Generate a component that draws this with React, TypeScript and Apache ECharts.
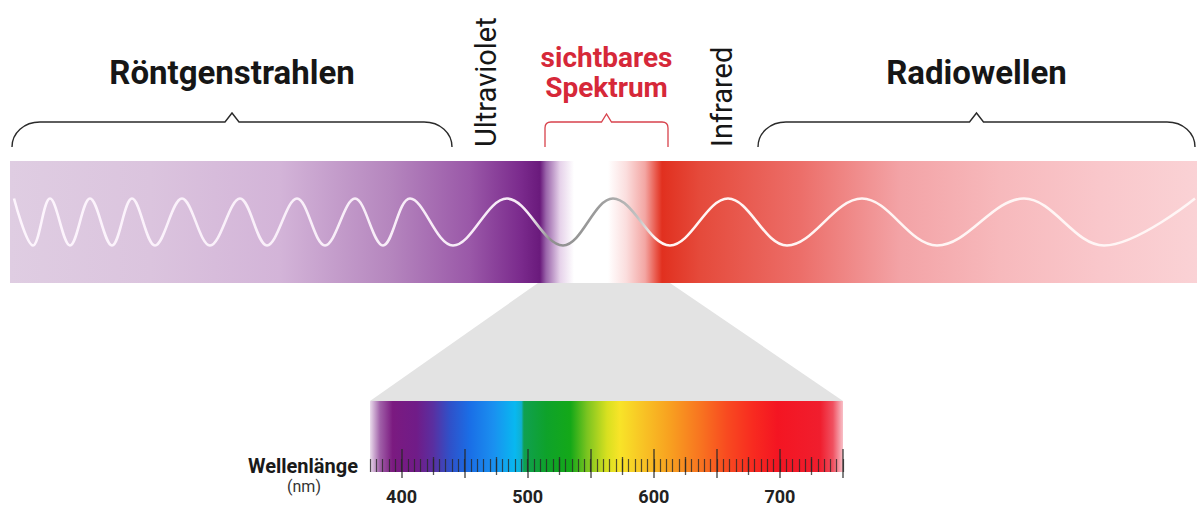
import React, { useEffect, useRef } from 'react';
import * as echarts from 'echarts';

// ---------- upper band (unitless position scale, left to right) ----------
const bandExtent = [10, 1197];
const bandYExtent = [-2.6, 2.6];
const wavePeaks = [14, 50, 90, 132, 182, 240, 297, 355, 410, 507, 613, 728, 862, 1024, 1195];
const waveTroughs = [33, 70, 112, 155, 210, 267, 325, 383, 453, 563, 670, 787, 937, 1104];

const bandStopPos = [10, 150, 280, 390, 470, 520, 540, 546, 560, 574, 608, 626, 645, 656, 662, 700, 800, 900, 1000, 1100, 1197];
const bandStopColor = ['#dfcde2', '#dbc4de', '#d3b4d8', '#b586be', '#9a58a8', '#7b2b8d', '#6a1a7c', '#9a64aa', '#e6d2ea', '#ffffff', '#ffffff', '#fbdede', '#f3a6a3', '#e9584b', '#e1301f', '#e54a3b', '#ec6e69', '#f3a3a6', '#f7b9bc', '#f9c7cb', '#fad2d5'];

const waveStopPos = [14, 530, 550, 600, 638, 655, 1195];
const waveStopColor = ['#fdf5fd', '#f6eaf6', '#8f8f8f', '#9c9c9c', '#c2c2c2', '#fff4f2', '#fff6f6'];

const regionNames = ['Röntgenstrahlen', 'sichtbares\nSpektrum', 'Radiowellen'];
const regionStart = [12, 545, 758];
const regionEnd = [452, 668, 1195];
const regionKind = ['major', 'visible', 'major'];

const gapLabels = ['Ultraviolet', 'Infrared'];
const gapLabelX = [486, 722];

const visibleWindow = [538, 670];

// ---------- lower spectrum (wavelength in nm) ----------
const spectrumRange = [375, 750];
const spectrumStopNm = [375, 383, 393, 412, 425, 438, 454, 473, 490, 495, 497, 515, 534, 547, 563, 573, 591, 613, 637, 658, 679, 698, 732, 742, 750];
const spectrumStopColor = ['#eadcec', '#a060a8', '#7b1a80', '#701c88', '#5a2fa0', '#3050c8', '#1a6ee6', '#1a90f0', '#08b8f0', '#10b0d0', '#10a050', '#0ea22a', '#14a818', '#7ac420', '#d8e020', '#f8e428', '#f8c425', '#f8a020', '#f87420', '#f84a20', '#f82a20', '#f41522', '#f01e2e', '#f05060', '#f8c0c8'];
const minorTickStep = 5;
const mediumTicks = [425, 475, 525, 575, 625, 675, 725];
const majorTicks = [400, 450, 500, 550, 600, 650, 700, 750];
const tickLabels = [400, 500, 600, 700];
const axisTitle = 'Wellenlänge';
const axisUnit = '(nm)';

const FONT = 'Roboto';

export default function App() {
  const ref = useRef<HTMLDivElement>(null);

  useEffect(() => {
    const chart = echarts.init(ref.current!, null, { renderer: 'svg' });

    const waveData = [
      ...wavePeaks.map((x) => [x, 1]),
      ...waveTroughs.map((x) => [x, -1]),
    ].sort((a, b) => a[0] - b[0]);

    const w0 = wavePeaks[0];
    const w1 = wavePeaks[wavePeaks.length - 1];
    const waveGradient = new echarts.graphic.LinearGradient(
      0, 0, 1, 0,
      waveStopPos.map((p, i) => ({ offset: (p - w0) / (w1 - w0), color: waveStopColor[i] }))
    );
    const bandGradientStops = bandStopPos.map((p, i) => ({
      offset: (p - bandExtent[0]) / (bandExtent[1] - bandExtent[0]),
      color: bandStopColor[i],
    }));
    const spectrumGradientStops = spectrumStopNm.map((nm, i) => ({
      offset: (nm - spectrumRange[0]) / (spectrumRange[1] - spectrumRange[0]),
      color: spectrumStopColor[i],
    }));

    const tickColor = 'rgba(40,40,40,0.78)';

    const option: any = {
      animation: false,
      grid: [
        { left: 10, top: 161, width: 1187, height: 122, containLabel: false, outerBoundsMode: 'none' },
        { left: 370, top: 401, width: 473, height: 71, containLabel: false, outerBoundsMode: 'none' },
      ],
      xAxis: [
        { gridIndex: 0, type: 'value', min: bandExtent[0], max: bandExtent[1], show: false },
        {
          gridIndex: 1, type: 'value', position: 'bottom', min: spectrumRange[0], max: spectrumRange[1],
          interval: minorTickStep, z: 10,
          axisLine: { show: false }, splitLine: { show: false }, axisLabel: { show: false },
          axisTick: { show: true, inside: true, length: 13, lineStyle: { color: tickColor, width: 1.2 } },
        },
        {
          gridIndex: 1, type: 'value', position: 'bottom', offset: 3, min: spectrumRange[0], max: spectrumRange[1], z: 10,
          axisLine: { show: false }, splitLine: { show: false }, axisLabel: { show: false },
          axisTick: { show: true, inside: true, length: 18, customValues: mediumTicks, lineStyle: { color: tickColor, width: 1.3 } },
        },
        {
          gridIndex: 1, type: 'value', position: 'bottom', offset: 6, min: spectrumRange[0], max: spectrumRange[1], z: 10,
          axisLine: { show: false }, splitLine: { show: false },
          axisTick: { show: true, inside: true, length: 29, customValues: majorTicks, lineStyle: { color: tickColor, width: 1.5 } },
          axisLabel: {
            customValues: tickLabels, margin: 9, fontSize: 18, fontWeight: 'bold',
            color: '#222', fontFamily: FONT,
          },
        },
      ],
      yAxis: [
        { gridIndex: 0, type: 'value', min: bandYExtent[0], max: bandYExtent[1], show: false },
        { gridIndex: 1, type: 'value', min: 0, max: 1, show: false },
      ],
      series: [
        {
          type: 'custom', name: 'band', xAxisIndex: 0, yAxisIndex: 0, z: 1, silent: true,
          data: [[bandExtent[0], bandExtent[1]]],
          renderItem: (params: any, api: any) => {
            const a = api.coord([api.value(0), bandYExtent[1]]);
            const b = api.coord([api.value(1), bandYExtent[0]]);
            return {
              type: 'rect',
              shape: { x: a[0], y: a[1], width: b[0] - a[0], height: b[1] - a[1] },
              style: { fill: new echarts.graphic.LinearGradient(0, 0, 1, 0, bandGradientStops) },
            };
          },
        },
        {
          type: 'line', name: 'wave', xAxisIndex: 0, yAxisIndex: 0, z: 3, silent: true,
          data: waveData, smooth: 0.364, symbol: 'none',
          lineStyle: { width: 2.6, color: waveGradient },
        },
        {
          type: 'custom', name: 'braces', xAxisIndex: 0, yAxisIndex: 0, z: 2, silent: true,
          data: regionNames.map((n, i) => [regionStart[i], regionEnd[i], i]),
          renderItem: (params: any, api: any) => {
            const i = params.dataIndex;
            const a = api.coord([api.value(0), bandYExtent[1]]);
            const b = api.coord([api.value(1), bandYExtent[1]]);
            const x0 = a[0], x1 = b[0], top = a[1];
            const yb = top - 39, ye = top - 14, xm = (x0 + x1) / 2;
            const red = regionKind[i] === 'visible';
            let d: string;
            if (red) {
              const r = 6;
              d = `M${x0} ${ye} L${x0} ${yb + r} Q${x0} ${yb} ${x0 + r} ${yb} L${xm - 5} ${yb} L${xm} ${yb - 8} L${xm + 5} ${yb} L${x1 - r} ${yb} Q${x1} ${yb} ${x1} ${yb + r} L${x1} ${ye}`;
            } else {
              const r = 28;
              d = `M${x0} ${ye} C${x0} ${yb + 11} ${x0 + 12} ${yb} ${x0 + r} ${yb} L${xm - 7} ${yb} L${xm} ${yb - 9} L${xm + 7} ${yb} L${x1 - r} ${yb} C${x1 - 12} ${yb} ${x1} ${yb + 11} ${x1} ${ye}`;
            }
            return {
              type: 'group',
              children: [
                {
                  type: 'path', shape: { pathData: d },
                  style: { fill: 'none', stroke: red ? '#d8424c' : '#2a2a2a', lineWidth: red ? 1.3 : 1.4 },
                },
                {
                  type: 'text', x: xm, y: top - 89,
                  style: {
                    text: regionNames[i], fill: red ? '#d62839' : '#161616',
                    fontSize: red ? 28 : 33, fontWeight: 'bold', fontFamily: FONT,
                    align: 'center', verticalAlign: 'middle', lineHeight: 30,
                  },
                },
              ],
            };
          },
        },
        {
          type: 'custom', name: 'gapLabels', xAxisIndex: 0, yAxisIndex: 0, z: 2, silent: true,
          data: gapLabelX.map((x, i) => [x, i]),
          renderItem: (params: any, api: any) => {
            const p = api.coord([api.value(0), bandYExtent[1]]);
            return {
              type: 'text', x: p[0], y: p[1] - 14, rotation: Math.PI / 2,
              style: {
                text: gapLabels[params.dataIndex], fill: '#161616', fontSize: 29,
                fontFamily: FONT, align: 'left', verticalAlign: 'middle',
              },
            };
          },
        },
        {
          type: 'custom', name: 'spectrum', xAxisIndex: 1, yAxisIndex: 1, z: 1, silent: true,
          data: [[spectrumRange[0], spectrumRange[1]]],
          renderItem: (params: any, api: any) => {
            const a = api.coord([api.value(0), 1]);
            const b = api.coord([api.value(1), 0]);
            return {
              type: 'rect',
              shape: { x: a[0], y: a[1], width: b[0] - a[0], height: b[1] - a[1] },
              style: { fill: new echarts.graphic.LinearGradient(0, 0, 1, 0, spectrumGradientStops) },
            };
          },
        },
      ],
    };

    chart.setOption(option);

    const tl = chart.convertToPixel({ xAxisIndex: 0, yAxisIndex: 0 } as any, [visibleWindow[0], bandYExtent[0]]) as number[];
    const tr = chart.convertToPixel({ xAxisIndex: 0, yAxisIndex: 0 } as any, [visibleWindow[1], bandYExtent[0]]) as number[];
    const bl = chart.convertToPixel({ xAxisIndex: 1, yAxisIndex: 1 } as any, [spectrumRange[0], 1]) as number[];
    const br = chart.convertToPixel({ xAxisIndex: 1, yAxisIndex: 1 } as any, [spectrumRange[1], 1]) as number[];
    const anchor = chart.convertToPixel({ xAxisIndex: 1, yAxisIndex: 1 } as any, [spectrumRange[0], 0]) as number[];

    chart.setOption({
      graphic: {
        elements: [
          {
            type: 'polygon', silent: true, z: 0,
            shape: { points: [tl, tr, br, bl] },
            style: { fill: '#e3e3e3' },
          },
          {
            type: 'text', silent: true, x: anchor[0] - 12, y: anchor[1] - 6,
            style: {
              text: axisTitle, fill: '#1a1a1a', fontSize: 20, fontWeight: 'bold', fontFamily: FONT,
              align: 'right', verticalAlign: 'middle',
            },
          },
          {
            type: 'text', silent: true, x: anchor[0] - 66, y: anchor[1] + 14,
            style: {
              text: axisUnit, fill: '#333', fontSize: 16, fontFamily: FONT,
              align: 'center', verticalAlign: 'middle',
            },
          },
        ],
      },
    });

    return () => chart.dispose();
  }, []);

  return (
    <div
      ref={ref}
      style={{ position: 'fixed', left: 0, top: 0, width: 1197, height: 506, background: '#fff' }}
    />
  );
}
